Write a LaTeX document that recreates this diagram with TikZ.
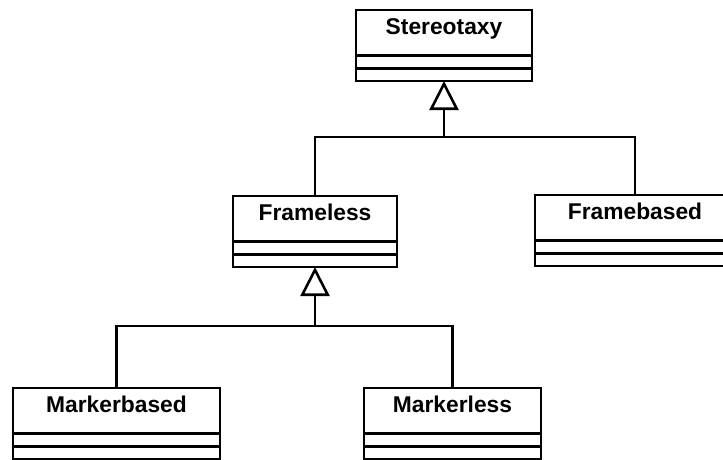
\documentclass[tikz,border=0pt]{standalone}
\usepackage{fontspec}
\setmainfont{Liberation Sans}
\usetikzlibrary{arrows.meta,calc}
\begin{document}
\begin{tikzpicture}[x=1pt,y=-1pt,
  umlline/.style={line width=2.6pt},
  classframe/.style={umlline, draw, rectangle, minimum height=71pt, inner sep=0pt, outer sep=0pt, anchor=north},
  classname/.style={font=\bfseries\fontsize{22.8}{26}\selectfont, anchor=base, inner sep=0pt},
  generalization/.style={umlline, -{Triangle[open, length=29pt, width=29pt, line width=2.6pt]}},
  link/.style={umlline}]
\clip (0,0) rectangle (723,459);
\useasboundingbox (0,0) rectangle (723,459);

% UML class: name, centre x, top y, width, title
\newcommand\umlclass[5]{%
  \node[classframe, minimum width=#4pt] (#1) at (#2,#3) {};
  \node[classname] (#1-title) at ($(#1.north)+(0,24.5)$) {#5};
  \draw[umlline] ($(#1.north west)+(0,45.5)$) -- ($(#1.north east)+(0,45.5)$);
  \draw[umlline] ($(#1.north west)+(0,58.5)$) -- ($(#1.north east)+(0,58.5)$);
}

\umlclass{stereo}{444}{10}{176}{Stereotaxy}
\umlclass{frameless}{315}{196}{164}{Frameless}
\umlclass{framebased}{635}{195}{200}{Framebased}
\umlclass{markerbased}{116.5}{388}{207}{Markerbased}
\umlclass{markerless}{452.5}{388}{177}{Markerless}

% generalisation joints
\coordinate (j1) at (444,137);
\coordinate (j2) at (315,326);

\draw[link] (frameless.north) |- (j1) -| (framebased.north);
\draw[generalization] (j1) -- (stereo.south);

\draw[link] (markerbased.north) |- (j2) -| (markerless.north);
\draw[generalization] (j2) -- (frameless.south);
\end{tikzpicture}
\end{document}
